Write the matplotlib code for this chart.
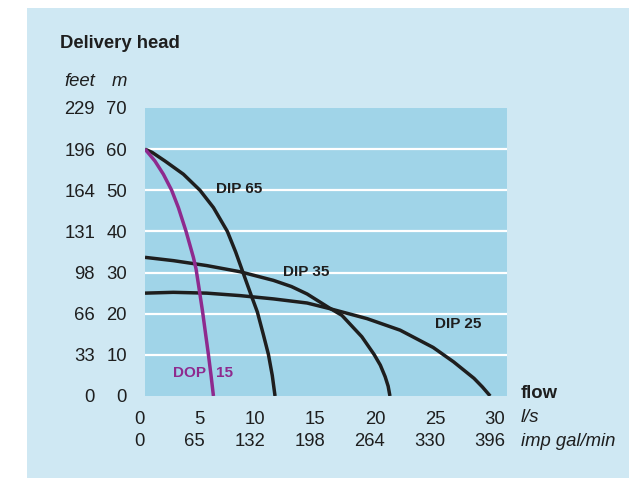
"""
Pump performance curves: delivery head vs flow
"""

import matplotlib.pyplot as plt
from matplotlib.patches import Rectangle
from matplotlib.transforms import blended_transform_factory

plt.rcParams["font.family"] = ["Liberation Sans", "DejaVu Sans"]

# =====================================================
# DATA
# =====================================================
head_m = [0, 10, 20, 30, 40, 50, 60, 70]
head_ft = ["0", "33", "66", "98", "131", "164", "196", "229"]

flow_ls = [0, 5, 10, 15, 20, 25, 30]
flow_gal = ["0", "65", "132", "198", "264", "330", "396"]

# DOP 15
dop15_q = [0, 0.35, 0.83, 1.53, 2.22, 2.78, 3.42, 4.03, 4.25, 4.51, 4.8, 5.05, 5.28, 5.5, 5.7]
dop15_h = [60, 58.8, 57.1, 53.9, 50, 45.8, 40, 33.7, 30.9, 26, 20.4, 15, 10.1, 5, 0]

# DIP 65
dip65_q = [0, 0.6, 1.67, 3.2, 4.58, 5.7, 6.86, 7.55, 8.14, 8.78, 9.36, 9.85, 10.28, 10.6, 10.83]
dip65_h = [60, 59.2, 57.1, 53.9, 50, 45.8, 40, 35, 30.2, 25, 20.4, 15, 10.1, 5, 0]

# DIP 35
dip35_q = [0, 2.36, 5.14, 7.92, 10.7, 12.2, 13.5, 15.3, 16.4, 18.06, 19.08, 19.6, 20.0, 20.25, 20.4]
dip35_h = [33.7, 32.9, 31.7, 30.2, 28.1, 26.6, 24.8, 21.5, 19.6, 14.4, 10.1, 7.5, 4.7, 2.4, 0]

# DIP 25
dip25_q = [0, 2.36, 5.14, 7.92, 10.7, 13.5, 15.3, 18.5, 21.25, 24.0, 25.7, 27.4, 28.1, 28.75]
dip25_h = [25.0, 25.2, 25.0, 24.4, 23.6, 22.6, 21.3, 18.8, 16.0, 11.8, 8.3, 4.3, 2.2, 0]

# =====================================================
# STYLE
# =====================================================
W, H = 629, 478
PANEL = "#cfe8f3"
PLOT_BG = "#a0d4e8"
INK = "#1e1e1e"
PURPLE = "#8e2a8e"
FS = 13.3


def fx(px):
    return px / W


def fy(py):
    return 1 - py / H


fig = plt.figure(figsize=(W / 100, H / 100), dpi=100, facecolor="white")
fig.patches.append(Rectangle((fx(27), 0), 1 - fx(27), fy(8), transform=fig.transFigure,
                             facecolor=PANEL, edgecolor="none", zorder=-10))

ax = fig.add_axes([fx(145), fy(396), fx(507) - fx(145), fy(108) - fy(396)])
ax.set_facecolor(PLOT_BG)
for s in ax.spines.values():
    s.set_visible(False)

ax.set_xlim(0, 30.15)
ax.set_ylim(0, 69.8)

for h in head_m[1:-1]:
    ax.axhline(h, color="white", linewidth=1.6, zorder=1)

lw = 2.5
for q, h in [(dip65_q, dip65_h), (dip35_q, dip35_h), (dip25_q, dip25_h)]:
    ax.plot(q, h, color=INK, linewidth=lw, solid_capstyle="butt",
            solid_joinstyle="round", zorder=3)
ax.plot(dop15_q, dop15_h, color=PURPLE, linewidth=lw, solid_capstyle="butt",
        solid_joinstyle="round", zorder=4)

lab = dict(fontsize=11, fontweight="bold", va="center", ha="left")
ax.text(5.92, 50.3, "DIP 65", color=INK, **lab)
ax.text(11.47, 30.1, "DIP 35", color=INK, **lab)
ax.text(24.17, 17.4, "DIP 25", color=INK, **lab)
ax.text(2.36, 5.65, "DOP", color=PURPLE, **lab)
ax.text(5.92, 5.65, "15", color=PURPLE, **lab)

# axis labels
ax.set_yticks(head_m)
ax.set_yticklabels([str(v) for v in head_m], fontsize=FS, color=INK)
ax.tick_params(axis="y", length=0, pad=13)
ax.set_xticks(flow_ls)
ax.set_xticklabels([str(v) for v in flow_ls], fontsize=FS, color=INK, ha="right")
ax.tick_params(axis="x", length=0, pad=11)

ytr = blended_transform_factory(fig.transFigure, ax.transData)
for h, ft in zip(head_m, head_ft):
    fig.text(fx(95), 0, ft, transform=ytr, fontsize=FS, color=INK,
             ha="right", va="center_baseline").set_y(h)

xtr = blended_transform_factory(ax.transData, fig.transFigure)
for q, g in zip(flow_ls, flow_gal):
    ax.text(q, fy(441), g, transform=xtr, fontsize=FS, color=INK,
            ha="right", va="center", clip_on=False)

fig.text(fx(60), fy(43), "Delivery head", fontsize=FS, fontweight="bold",
         color=INK, va="center", ha="left")
fig.text(fx(95), fy(82), "feet", fontsize=FS, fontstyle="italic",
         color=INK, va="center", ha="right")
fig.text(fx(127), fy(82), "m", fontsize=FS, fontstyle="italic",
         color=INK, va="center", ha="right")
fig.text(fx(521), fy(393), "flow", fontsize=FS, fontweight="bold",
         color=INK, va="center", ha="left")
fig.text(fx(521), fy(418), "l/s", fontsize=FS, fontstyle="italic",
         color=INK, va="center", ha="left")
fig.text(fx(521), fy(441), "imp gal/min", fontsize=FS, fontstyle="italic",
         color=INK, va="center", ha="left")

fig.savefig("out.png", dpi=100, facecolor="white")
